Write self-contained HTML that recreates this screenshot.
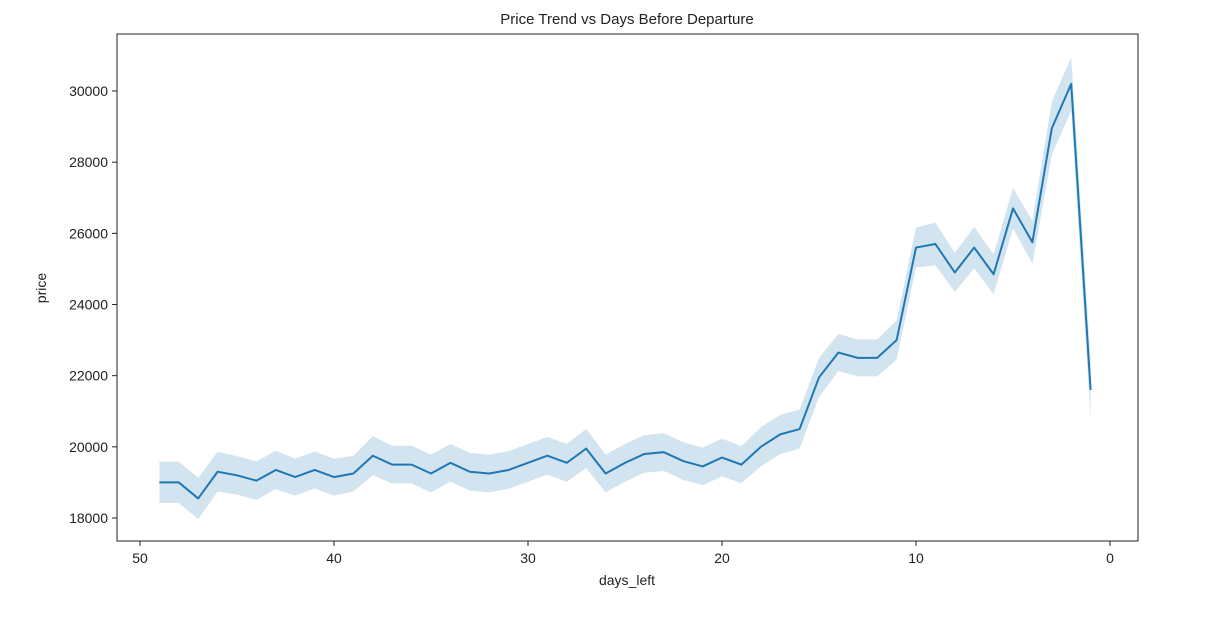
<!DOCTYPE html>
<html><head><meta charset="utf-8"><style>
body{margin:0;background:#fff;font-family:"Liberation Sans","DejaVu Sans",sans-serif;}
svg text{font-family:"Liberation Sans","DejaVu Sans",sans-serif;fill:#222;}
</style></head><body>
<svg id="chart" width="1218" height="613">
<text x="627" y="24" font-size="15" text-anchor="middle">Price Trend vs Days Before Departure</text>
<g id="band"></g>
<g id="line"></g>
<rect x="117" y="34" width="1021" height="507" fill="none" stroke="#222" stroke-width="1"/>
<g id="xaxis"></g>
<g id="yaxis"></g>
<text x="627" y="585" font-size="14" text-anchor="middle">days_left</text>
<text x="46" y="288" font-size="14" text-anchor="middle" transform="rotate(-90 46 288)">price</text>
</svg>
<script>
const days=[49,48,47,46,45,44,43,42,41,40,39,38,37,36,35,34,33,32,31,30,29,28,27,26,25,24,23,22,21,20,19,18,17,16,15,14,13,12,11,10,9,8,7,6,5,4,3,2,1];
const prices=[19000,19000,18550,19300,19200,19050,19350,19150,19350,19150,19250,19750,19500,19500,19250,19550,19300,19250,19350,19550,19750,19550,19950,19250,19550,19800,19850,19600,19450,19700,19500,20000,20350,20500,21950,22650,22500,22500,23000,25600,25700,24900,25600,24850,26700,25750,28950,30200,21600];
const ci=[580,580,580,560,540,540,540,520,520,520,500,550,530,530,530,530,530,530,530,530,530,530,550,530,530,530,530,530,530,530,520,550,550,550,550,520,520,520,550,560,600,550,580,560,570,600,750,750,820];
const xTicks=[50,40,30,20,10,0];
const yTicks=[18000,20000,22000,24000,26000,28000,30000];
const X=d=>140+(50-d)*19.4;
const Y=v=>518-(v-18000)*(427/12000);
const ns="http://www.w3.org/2000/svg";
function mk(t,a,p){const e=document.createElementNS(ns,t);for(const k in a)e.setAttribute(k,a[k]);p.appendChild(e);return e;}
let up=days.map((d,i)=>X(d)+","+Y(prices[i]+ci[i]));
let lo=days.map((d,i)=>X(d)+","+Y(prices[i]-ci[i])).reverse();
const band=mk("polygon",{points:up.concat(lo).join(" "),fill:"#1f77b4","fill-opacity":"0.2",stroke:"none"},document.getElementById("band"));


const ln=mk("polyline",{points:days.map((d,i)=>X(d)+","+Y(prices[i])).join(" "),fill:"none",stroke:"#1f77b4","stroke-width":"2","stroke-linejoin":"round"},document.getElementById("line"));


const xa=document.getElementById("xaxis");
xTicks.forEach(t=>{
 const l=mk("line",{x1:X(t),x2:X(t),y1:541,y2:546,stroke:"#222"},xa);
 
 
 const tx=mk("text",{x:X(t),y:563,"font-size":"14","text-anchor":"middle"},xa);tx.textContent=t;
 
 
});
const ya=document.getElementById("yaxis");
yTicks.forEach(t=>{
 const l=mk("line",{x1:112,x2:117,y1:Y(t),y2:Y(t),stroke:"#222"},ya);
 
 
 const tx=mk("text",{x:108,y:Y(t)+5,"font-size":"14","text-anchor":"end"},ya);tx.textContent=t;
 
 
});
</script>
</body></html>
